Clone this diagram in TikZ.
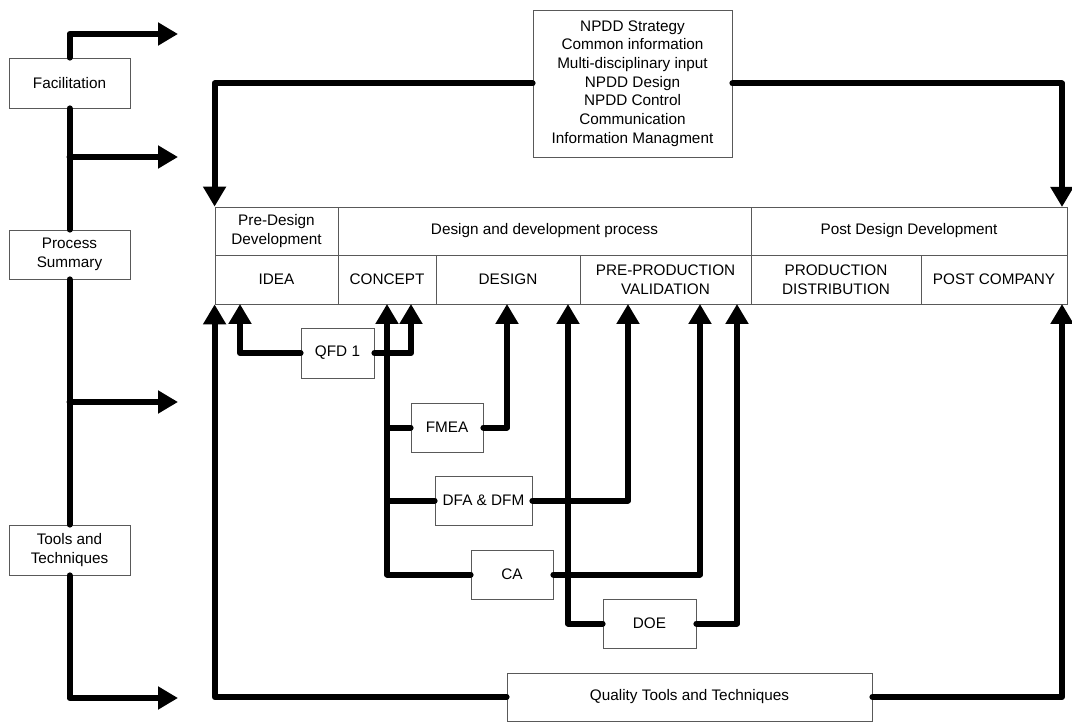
\documentclass[tikz,border=0pt]{standalone}
\usepackage{fontspec}
\setmainfont{Liberation Sans}
\usetikzlibrary{arrows.meta}
\begin{document}
\begin{tikzpicture}[x=1pt,y=-1pt,
  box/.style={draw=black!65, line width=0.8pt, fill=white, align=center,
    inner sep=0pt, font=\fontsize{15.3}{18.7}\selectfont},
  link/.style={line width=6pt, line cap=round, line join=round},
  arr/.style={link, -{Triangle[length=20pt,width=22pt]}},
]
\useasboundingbox (0,0) rectangle (1072,722);

% left-hand column
\node[box, minimum width=121, minimum height=50] (fac)   at (69.5,83)    {Facilitation};
\node[box, minimum width=121, minimum height=49] (proc)  at (69.5,254.5) {Process\\Summary};
\node[box, minimum width=121, minimum height=50] (tools) at (69.5,550)   {Tools and\\Techniques};

% process table: header row
\node[box, minimum width=123, minimum height=48] (pre)  at (276.5,231) {Pre-Design\\Development};
\node[box, minimum width=413, minimum height=48] (ddp)  at (544.5,231) {Design and development process};
\node[box, minimum width=316, minimum height=48] (post) at (909,231)   {Post Design Development};
% process table: stage row
\node[box, minimum width=123, minimum height=49] (idea)    at (276.5,279.5) {IDEA};
\node[box, minimum width=98,  minimum height=49] (concept) at (387,279.5)   {CONCEPT};
\node[box, minimum width=144, minimum height=49] (design)  at (508,279.5)   {DESIGN};
\node[box, minimum width=171, minimum height=49] (preprod) at (665.5,279.5) {PRE-PRODUCTION\\VALIDATION};
\node[box, minimum width=170, minimum height=49] (prod)    at (836,279.5)   {PRODUCTION\\DISTRIBUTION};
\node[box, minimum width=146, minimum height=49] (postco)  at (994,279.5)   {POST COMPANY};

% facilitation box
\node[box, minimum width=199, minimum height=147] (npdd) at (632.5,83.5)
  {NPDD Strategy\\Common information\\Multi-disciplinary input\\NPDD Design\\NPDD Control\\Communication\\Information Managment};

% tools
\node[box, minimum width=73, minimum height=50] (qfd)  at (337.5,353)   {QFD 1};
\node[box, minimum width=72, minimum height=49] (fmea) at (447,427.5)   {FMEA};
\node[box, minimum width=97, minimum height=49] (dfa)  at (483.5,500.5) {DFA \& DFM};
\node[box, minimum width=82, minimum height=49] (ca)   at (512,574.5)   {CA};
\node[box, minimum width=93, minimum height=49] (doe)  at (649.5,623.5) {DOE};
\node[box, minimum width=365, minimum height=48] (qual) at (689.5,697)  {Quality Tools and Techniques};

% arrow targets and junctions
\coordinate (aFac)  at (178,34);
\coordinate (sp1)   at (69.5,157);
\coordinate (aSum)  at (178,157);
\coordinate (sp2)   at (69.5,402);
\coordinate (aMid)  at (178,402);
\coordinate (aTool) at (178,698);
\coordinate (tA) at (240,304);
\coordinate (tB) at (411,304);
\coordinate (tC) at (387,304);
\coordinate (tD) at (507,304);
\coordinate (tE) at (568,304);
\coordinate (tF) at (628,304);
\coordinate (tG) at (700,304);
\coordinate (tH) at (737,304);
\coordinate (tTopR) at (1062,207);
\coordinate (tBotR) at (1062,304);

% left spine
\draw[arr] (fac.north) |- (aFac);
\draw[link] (fac.south) -- (proc.north);
\draw[arr] (sp1) -- (aSum);
\draw[link] (proc.south) -- (tools.north);
\draw[arr] (sp2) -- (aMid);
\draw[arr] (tools.south) |- (aTool);

% NPDD feeds the whole process
\draw[arr] (npdd.west) -| (pre.north west);
\draw[arr] (npdd.east) -| (tTopR);

% quality tools feed the whole process
\draw[arr] (qual.west) -| (idea.south west);
\draw[arr] (qual.east) -| (tBotR);

% individual tools
\draw[arr] (qfd.west) -| (tA);
\draw[arr] (qfd.east) -| (tB);
\draw[arr] (ca.west) -| (tC);
\draw[link] (fmea.west) -- (fmea.west -| tC);
\draw[link] (dfa.west) -- (dfa.west -| tC);
\draw[arr] (fmea.east) -| (tD);
\draw[arr] (dfa.east) -| (tF);
\draw[arr] (doe.west) -| (tE);
\draw[arr] (ca.east) -| (tG);
\draw[arr] (doe.east) -| (tH);
\end{tikzpicture}
\end{document}
